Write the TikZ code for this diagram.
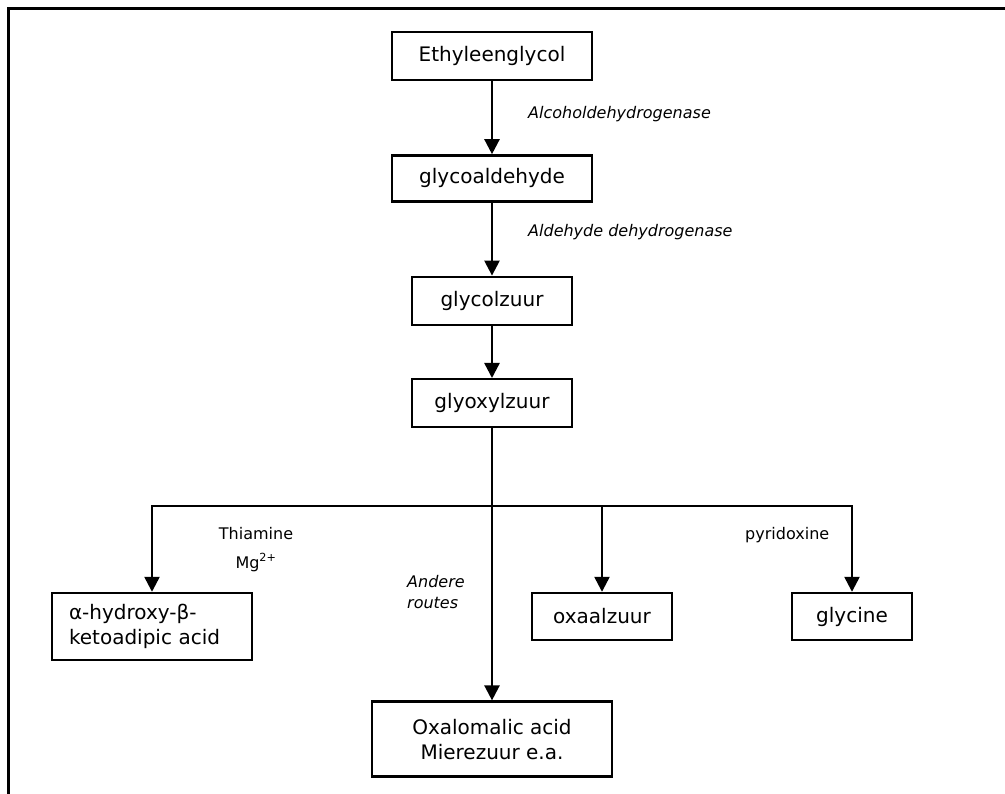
\documentclass[tikz,border=0pt]{standalone}
\usepackage{fontspec}
\setmainfont{DejaVu Sans}
\usetikzlibrary{arrows.meta,positioning}

\begin{document}
\begin{tikzpicture}[x=1pt,y=-1pt,
    box/.style={draw,line width=2.4pt,minimum width=200pt,minimum height=47pt,
                inner sep=0pt,align=center,font=\fontsize{20}{25}\selectfont},
    enzyme/.style={inner sep=0pt,font=\fontsize{16}{21}\selectfont\itshape},
    cofactor/.style={inner sep=0pt,align=center,font=\fontsize{16}{29}\selectfont},
    arr/.style={-{Triangle[width=15pt,length=15pt]},line width=2.4pt}]
    \useasboundingbox (0,0) rectangle (1005,794);
    \draw[line width=3pt] (8,820) |- (1030,9);
    % main chain
    \node[box,minimum height=48pt] (ethyl) at (492,56) {Ethyleenglycol};
    \node[box,minimum height=46pt,below=73pt of ethyl] (aldeh) {glycoaldehyde};
    \node[box,minimum width=160pt,minimum height=48pt,below=73pt of aldeh] (glycol) {glycolzuur};
    \node[box,minimum width=160pt,minimum height=48pt,below=52pt of glycol] (glyox) {glyoxylzuur};
    % products
    \node[box,minimum height=67pt,align=left,text width=166pt] (alpha) at (152,626.5) {α-hydroxy-β-\\ketoadipic acid};
    \node[box,minimum width=140pt] (oxaal) at (602,616.5) {oxaalzuur};
    \node[box,minimum width=120pt] (glycine) at (852,616.5) {glycine};
    \node[box,minimum width=240pt,minimum height=75pt,below=272pt of glyox] (oxalo) {Oxalomalic acid\\Mierezuur e.a.};
    \coordinate (split) at (492,506);
    \draw[arr] (ethyl)--(aldeh);
    \draw[arr] (aldeh)--(glycol);
    \draw[arr] (glycol)--(glyox);
    \draw[arr] (glyox)--(oxalo);
    \draw[arr] (split) -| (alpha);
    \draw[arr] (split) -| (oxaal);
    \draw[arr] (split) -| (glycine);
    % labels
    \node[enzyme,anchor=base west] (adh) at (528,119) {Alcoholdehydrogenase};
    \node[enzyme,anchor=base west] (aldh) at (528,237) {Aldehyde dehydrogenase};
    \node[cofactor,anchor=base] (thiam) at (256,568) {Thiamine\\Mg\textsuperscript{2+}};
    \node[enzyme,align=left,anchor=base west] (other) at (407,608) {Andere\\routes};
    \node[cofactor,anchor=base west] (pyrid) at (745,539) {pyridoxine};
  \end{tikzpicture}
\end{document}
